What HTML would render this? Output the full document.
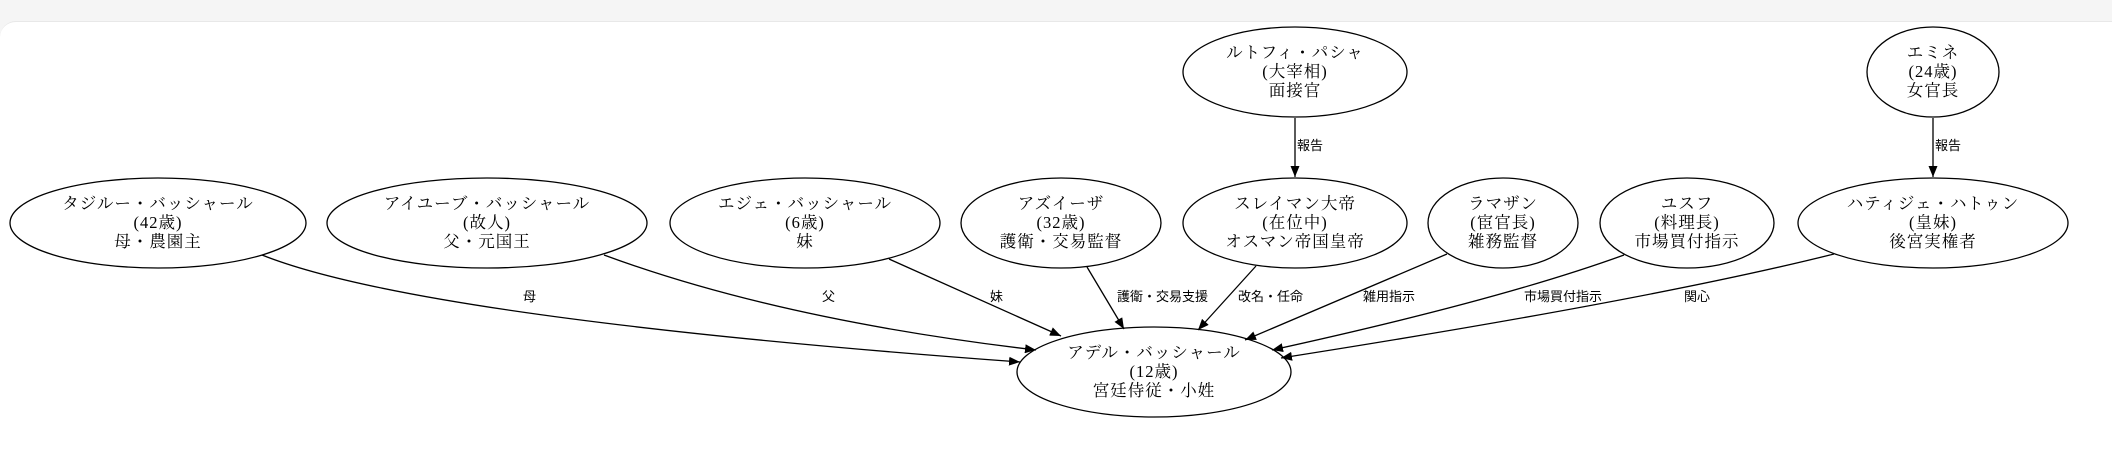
<!DOCTYPE html>
<html><head><meta charset="utf-8"><style>
html,body{margin:0;padding:0;background:#f5f5f5;}
.card{position:absolute;left:0;top:21px;width:2112px;height:432px;background:#fff;border-radius:16px 0 0 0;border-top:1px solid #e8e8e8;}
svg{position:absolute;left:0;top:0;}
.n{font-family:"Liberation Serif","Noto Serif CJK JP","Noto Serif CJK SC",serif;font-size:16.5px;letter-spacing:1px;text-anchor:middle;fill:#000;}
.e{font-family:"Liberation Sans","Noto Sans CJK JP",sans-serif;font-size:13px;fill:#000;}
</style></head><body>
<div class="card"></div>
<svg width="2112" height="453" viewBox="0 0 2112 453">
<defs><marker id="a" markerWidth="11" markerHeight="9" refX="11" refY="4.5" orient="auto" markerUnits="userSpaceOnUse"><path d="M0,0 L11,4.5 L0,9 z" fill="#000"/></marker></defs>
<g fill="none" stroke="#000" stroke-width="1.3">
<ellipse cx="158" cy="223" rx="148" ry="45"/>
<ellipse cx="487" cy="223" rx="160" ry="45"/>
<ellipse cx="805" cy="223" rx="135" ry="45"/>
<ellipse cx="1061" cy="223" rx="100" ry="45"/>
<ellipse cx="1295" cy="223" rx="112" ry="45"/>
<ellipse cx="1295" cy="72" rx="112" ry="45"/>
<ellipse cx="1503" cy="223" rx="75" ry="45"/>
<ellipse cx="1687" cy="223" rx="87" ry="45"/>
<ellipse cx="1933" cy="223" rx="135" ry="45"/>
<ellipse cx="1933" cy="72" rx="66" ry="45"/>
<ellipse cx="1154" cy="372" rx="137" ry="45"/>
<g marker-end="url(#a)">
<path d="M262,255 Q420,318 1020,362"/>
<path d="M604,255 Q780,320 1036,350"/>
<path d="M889,259 L1061,336"/>
<path d="M1087,267 L1124,329"/>
<path d="M1256,266 L1198,330"/>
<path d="M1447,254 L1245,340"/>
<path d="M1624,255 Q1500,300 1272,350"/>
<path d="M1834,254 Q1650,300 1281,358"/>
<path d="M1295,118 L1295,177"/>
<path d="M1933,118 L1933,177"/>
</g></g>
<g class="n">
<text x="158" y="209">タジルー・バッシャール</text><text x="158" y="228">(42歳)</text><text x="158" y="247">母・農園主</text>
<text x="487" y="209">アイユーブ・バッシャール</text><text x="487" y="228">(故人)</text><text x="487" y="247">父・元国王</text>
<text x="805" y="209">エジェ・バッシャール</text><text x="805" y="228">(6歳)</text><text x="805" y="247">妹</text>
<text x="1061" y="209">アズイーザ</text><text x="1061" y="228">(32歳)</text><text x="1061" y="247">護衛・交易監督</text>
<text x="1295" y="209">スレイマン大帝</text><text x="1295" y="228">(在位中)</text><text x="1295" y="247">オスマン帝国皇帝</text>
<text x="1295" y="58">ルトフィ・パシャ</text><text x="1295" y="77">(大宰相)</text><text x="1295" y="96">面接官</text>
<text x="1503" y="209">ラマザン</text><text x="1503" y="228">(宦官長)</text><text x="1503" y="247">雑務監督</text>
<text x="1687" y="209">ユスフ</text><text x="1687" y="228">(料理長)</text><text x="1687" y="247">市場買付指示</text>
<text x="1933" y="209">ハティジェ・ハトゥン</text><text x="1933" y="228">(皇妹)</text><text x="1933" y="247">後宮実権者</text>
<text x="1933" y="58">エミネ</text><text x="1933" y="77">(24歳)</text><text x="1933" y="96">女官長</text>
<text x="1154" y="358">アデル・バッシャール</text><text x="1154" y="377">(12歳)</text><text x="1154" y="396">宮廷侍従・小姓</text>
</g>
<g class="e">
<text x="523" y="301">母</text>
<text x="822" y="301">父</text>
<text x="990" y="301">妹</text>
<text x="1117" y="301">護衛・交易支援</text>
<text x="1238" y="301">改名・任命</text>
<text x="1363" y="301">雑用指示</text>
<text x="1524" y="301">市場買付指示</text>
<text x="1684" y="301">関心</text>
<text x="1297" y="150">報告</text>
<text x="1935" y="150">報告</text>
</g>
</svg>
</body></html>
